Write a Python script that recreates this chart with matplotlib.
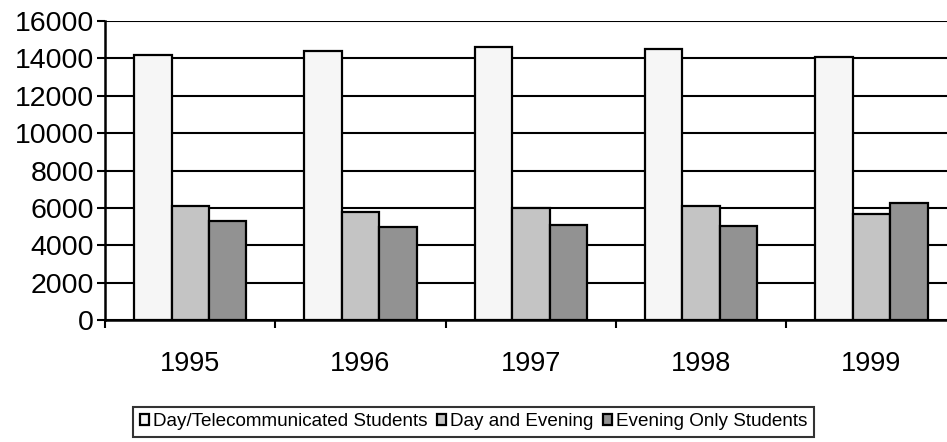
import numpy as np
import matplotlib.pyplot as plt

plt.rcParams['font.family'] = ['Liberation Sans', 'DejaVu Sans']

years = ['1995', '1996', '1997', '1998', '1999']
day_tele = [14200, 14400, 14600, 14500, 14100]
day_evening = [6100, 5800, 6000, 6100, 5650]
evening_only = [5300, 5000, 5100, 5050, 6250]
series_names = ['Day/Telecommunicated Students', 'Day and Evening', 'Evening Only Students']

fig = plt.figure(figsize=(9.47, 4.42), dpi=100)
ax = fig.add_axes([0.111, 0.276, 0.889, 0.6765])

x = np.arange(len(years)) + 0.5
w = 0.22
colors = ['#f6f6f6', '#c4c4c4', '#929292']
for i, (vals, c) in enumerate(zip([day_tele, day_evening, evening_only], colors)):
    ax.bar(x + (i - 1) * w, vals, w, color=c, edgecolor='black', linewidth=1.6,
           label=series_names[i], zorder=3)

ax.set_ylim(0, 16000)
ax.set_xlim(0, 4.944)
ax.set_yticks(range(0, 16001, 2000))
ax.yaxis.grid(True, color='black', linewidth=1.5)
ax.set_axisbelow(True)

# year labels centred in each category, tick marks between categories
ax.set_xticks(np.arange(0, 5))
ax.set_xticklabels([])
ax.set_xticks(x, minor=True)
ax.set_xticklabels(years, minor=True)
ax.tick_params(axis='x', which='minor', length=0, pad=22.5, labelsize=19.5)
ax.tick_params(axis='x', which='major', length=6, width=1.5, direction='out')
ax.tick_params(axis='y', length=6, width=1.5, labelsize=20.5, pad=2)

for s in ['top', 'right']:
    ax.spines[s].set_visible(False)
for s in ['left', 'bottom']:
    ax.spines[s].set_linewidth(1.8)

leg = fig.legend(loc='center', bbox_to_anchor=(0.5, 0.046), ncol=3, fontsize=13.6,
                 frameon=True, fancybox=False, edgecolor='black',
                 handlelength=0.5, handleheight=0.5, handletextpad=0.2,
                 columnspacing=0.5, borderpad=0.35, borderaxespad=0)
leg.get_frame().set_linewidth(1.5)

fig.savefig('out.png', dpi=100)
